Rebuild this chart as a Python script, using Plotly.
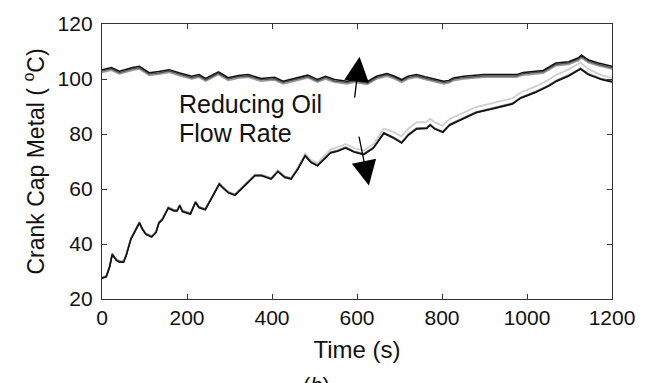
import plotly.graph_objects as go

# ---- data ----
upper_t = [0, 22, 41, 72, 88, 111, 134, 158, 181, 211, 228, 244, 274, 297, 321, 344, 374,
           406, 426, 444, 468, 484, 507, 526, 547, 577, 593, 624, 646, 670, 686, 705, 720,
           740, 760, 772, 804, 816, 827, 851, 898, 975, 991, 1038, 1068, 1098, 1121, 1128,
           1145, 1168, 1200]
upper_top = [103.4, 104.2, 102.8, 104.2, 104.6, 102.3, 102.7, 103.4, 102.3, 101.0, 101.6,
             100.2, 102.6, 100.5, 101.3, 101.6, 100.2, 100.6, 99.2, 99.8, 100.6, 101.4, 99.8,
             101.0, 99.8, 99.2, 99.8, 99.0, 101.0, 102.0, 101.2, 99.8, 101.0, 101.6, 100.8,
             100.4, 99.2, 99.5, 100.4, 101.0, 101.6, 101.6, 102.4, 103.1, 105.8, 106.3, 107.7,
             108.7, 106.9, 105.8, 104.6]
upper_offsets = [0.0, -0.5, -1.0]
upper_colors = ["#111111", "#555555", "#9a9a9a"]

lower_t = [0, 10, 18, 24, 34, 41, 51, 57, 68, 80, 88, 95, 103, 117, 127, 134, 142, 156, 169,
           177, 183, 189, 208, 220, 228, 243, 262, 276, 285, 297, 313, 329, 344, 360, 375,
           398, 414, 430, 445, 461, 478, 492, 507, 523, 538, 554, 573, 593, 616, 639, 663,
           686, 705, 721, 740, 764, 772, 783, 802, 818, 849, 880, 926, 966, 985, 1020, 1051,
           1070, 1097, 1126, 1144, 1175, 1200]
lower_dark = [27.5, 28.0, 31.6, 36.1, 34.0, 33.4, 33.4, 35.8, 41.7, 45.3, 47.6, 45.3, 43.5,
              42.5, 44.1, 47.6, 48.8, 53.0, 52.0, 52.0, 53.9, 51.8, 50.8, 55.1, 53.2, 52.4,
              57.7, 61.7, 60.3, 58.6, 57.7, 60.1, 62.5, 64.8, 64.8, 63.6, 66.3, 64.2, 63.6,
              67.2, 72.0, 69.6, 68.4, 70.7, 73.1, 73.7, 74.9, 73.4, 72.5, 74.9, 80.2, 78.5,
              76.7, 79.6, 81.8, 82.0, 83.2, 81.8, 80.6, 83.2, 85.6, 87.7, 89.4, 90.9, 93.0,
              95.1, 97.4, 99.2, 101.0, 103.6, 101.6, 99.8, 98.9]
lower_light_gap = [0.4, 0.4, 0.4, 0.4, 0.4, 0.4, 0.4, 0.4, 0.4, 0.4, 0.4, 0.4, 0.4, 0.4, 0.4,
                   0.4, 0.4, 0.4, 0.4, 0.4, 0.4, 0.4, 0.4, 0.4, 0.4, 0.4, 0.4, 0.4, 0.4, 0.4,
                   0.4, 0.4, 0.4, 0.4, 0.4, 0.4, 0.4, 0.4, 0.4,
                   0.8, 0.9, 1.0, 1.1, 1.2, 1.3, 1.4, 1.5, 1.5, 1.5, 1.5, 1.8, 2.2, 2.4, 2.4,
                   2.4, 2.4, 2.4, 2.4, 2.4, 2.3, 2.2, 2.1, 2.1, 2.1, 2.1, 2.2, 2.3, 2.4, 2.4,
                   2.4, 2.0, 1.6, 1.5]
lower_offsets = [0.35, 0.15, 0.0]
lower_colors = ["#8a8a8a", "#444444", "#111111"]

x_ticks = [0, 200, 400, 600, 800, 1000, 1200]
y_ticks = [20, 40, 60, 80, 100, 120]

FONT = "Liberation Sans, Arial, sans-serif"
TXT = "#111111"

fig = go.Figure()

fig.add_trace(go.Scatter(x=lower_t, y=[v + g for v, g in zip(lower_dark, lower_light_gap)],
                         mode="lines", line=dict(color="#cfcfcf", width=1.8),
                         showlegend=False, hoverinfo="skip"))
for off, col in zip(lower_offsets, lower_colors):
    fig.add_trace(go.Scatter(x=lower_t, y=[v + off for v in lower_dark], mode="lines",
                             line=dict(color=col, width=1.5), showlegend=False,
                             hoverinfo="skip"))

for off, col in zip(reversed(upper_offsets), reversed(upper_colors)):
    fig.add_trace(go.Scatter(x=upper_t, y=[v + off for v in upper_top], mode="lines",
                             line=dict(color=col, width=1.5), showlegend=False,
                             hoverinfo="skip"))

annotations = [
    dict(x=178, y=91.0, xref="x", yref="y", text="Reducing Oil",
         showarrow=False, xanchor="left", yanchor="middle", align="left", borderpad=0,
         font=dict(family=FONT, size=25, color=TXT)),
    dict(x=178, y=80.2, xref="x", yref="y", text="Flow Rate",
         showarrow=False, xanchor="left", yanchor="middle", align="left", borderpad=0,
         font=dict(family=FONT, size=25, color=TXT)),
    dict(x=606, y=108.1, xref="x", yref="y", ax=594, ay=92.7, axref="x", ayref="y",
         text="", showarrow=True, arrowhead=2, arrowsize=3.8, arrowwidth=1.3,
         arrowcolor="#000000", standoff=0),
    dict(x=628, y=61.3, xref="x", yref="y", ax=604, ay=79.6, axref="x", ayref="y",
         text="", showarrow=True, arrowhead=2, arrowsize=3.8, arrowwidth=1.3,
         arrowcolor="#000000", standoff=0),
    dict(x=0.42, y=-0.26, xref="paper", yref="paper", text="(<i>b</i>)",
         showarrow=False, xanchor="center", yanchor="top",
         font=dict(family=FONT, size=22, color=TXT)),
]

axis_common = dict(showline=True, linecolor="#333333", linewidth=1.3, mirror="ticks",
                   ticks="inside", ticklen=5, tickcolor="#333333", tickwidth=1.2,
                   showgrid=False, zeroline=False,
                   tickfont=dict(family=FONT, size=21, color=TXT))

fig.update_layout(
    width=647, height=383,
    margin=dict(l=102, r=30, t=18, b=84),
    paper_bgcolor="white", plot_bgcolor="white",
    xaxis=dict(range=[0, 1200], tickvals=x_ticks, ticktext=[str(v) for v in x_ticks],
               ticklabelstandoff=0,
               title=dict(text="Time (s)", standoff=12,
                          font=dict(family=FONT, size=24, color=TXT)),
               **axis_common),
    yaxis=dict(range=[20, 120], tickvals=y_ticks, ticktext=[str(v) for v in y_ticks],
               ticklabelstandoff=4,
               title=dict(text="Crank Cap Metal ( <sup>o</sup>C)", standoff=6,
                          font=dict(family=FONT, size=23, color=TXT)),
               **axis_common),
    annotations=annotations,
)

fig.write_html("out.html")
